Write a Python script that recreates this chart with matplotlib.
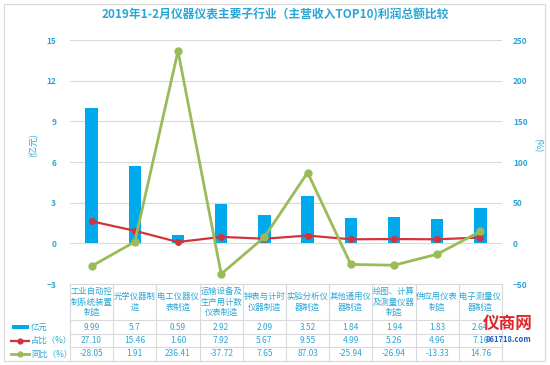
import numpy as np
import matplotlib
matplotlib.use("Agg")
import matplotlib.pyplot as plt
from matplotlib.lines import Line2D
from matplotlib.patches import Rectangle

plt.rcParams['font.family'] = ['Noto Sans CJK SC', 'DejaVu Sans']

categories = ["工业自动控\n制系统装置\n制造", "光学仪器制\n造", "电工仪器仪\n表制造",
              "运输设备及\n生产用计数\n仪表制造", "钟表与计时\n仪器制造", "实验分析仪\n器制造",
              "其他通用仪\n器制造", "绘图、计算\n及测量仪器\n制造", "供应用仪表\n制造",
              "电子测量仪\n器制造"]
profit = [9.99, 5.7, 0.59, 2.92, 2.09, 3.52, 1.84, 1.94, 1.83, 2.64]
share = [27.10, 15.46, 1.60, 7.92, 5.67, 9.55, 4.99, 5.26, 4.96, 7.16]
yoy = [-28.05, 1.91, 236.41, -37.72, 7.65, 87.03, -25.94, -26.94, -13.33, 14.76]
row_names = ["亿元", "占比（%）", "同比（%）"]

BLUE = "#00a9ec"
RED = "#d2343a"
GREEN = "#9bbb59"
TXT = "#2aa6d6"
GRID = "#d9d9d9"

W, H = 550, 365
fig = plt.figure(figsize=(5.5, 3.65), dpi=100)

def fx(px):
    return px / W

def fy(py):
    return 1 - py / H

x0, x1, ytop, ybot = 70, 502, 40, 284
ax = fig.add_axes([fx(x0), fy(ybot), fx(x1) - fx(x0), fy(ytop) - fy(ybot)])
n = len(categories)
x = np.arange(n)
ax.bar(x, profit, width=0.29, color=BLUE, zorder=2)
ax.set_xlim(-0.5, n - 0.5)
ax.set_ylim(-3, 15)
ax.set_yticks([-3, 0, 3, 6, 9, 12, 15])
ax.set_xticks([])
ax.grid(axis='y', color=GRID, lw=0.8, zorder=0)
for s in ax.spines.values():
    s.set_visible(False)
ax.tick_params(axis='y', length=0, labelsize=6, labelcolor=TXT, pad=10)
for t in ax.get_yticklabels():
    t.set_fontweight('bold')

ax2 = ax.twinx()
ax2.set_ylim(-50, 250)
ax2.set_yticks([-50, 0, 50, 100, 150, 200, 250])
ax2.plot(x, share, color=RED, lw=1.6, marker='o', ms=4, zorder=3)
ax2.plot(x, yoy, color=GREEN, lw=2, marker='o', ms=5, zorder=3)
for s in ax2.spines.values():
    s.set_visible(False)
ax2.tick_params(axis='y', length=0, labelsize=6, labelcolor=TXT, pad=8)
for t in ax2.get_yticklabels():
    t.set_fontweight('bold')

fig.text(fx(34), fy(145), "(亿元)", rotation=90, color=TXT, fontsize=6.5,
         ha='center', va='center')
fig.text(fx(537), fy(145), "(%)", rotation=270, color=TXT, fontsize=6.5,
         ha='center', va='center')

fig.text(fx(275), fy(15), "2019年1-2月仪器仪表主要子行业（主营收入TOP10)利润总额比较",
         color=TXT, fontsize=8.5, fontweight='bold', ha='center', va='center')

# data table below the plot
cw = (x1 - x0) / n
row_lines = [284, 320, 334, 347, 361]
for yy in row_lines:
    fig.add_artist(Line2D([fx(x0), fx(x1)], [fy(yy), fy(yy)], color=GRID, lw=0.8))
for i in range(n + 1):
    xx = x0 + i * cw
    fig.add_artist(Line2D([fx(xx), fx(xx)], [fy(284), fy(361)], color=GRID, lw=0.8))

for i, cat in enumerate(categories):
    cx = x0 + (i + 0.5) * cw
    fig.text(fx(cx), fy(302), cat, color=TXT, fontsize=6, ha='center', va='center',
             linespacing=1.25)
    vals = [f"{profit[i]:g}", f"{share[i]:.2f}", f"{yoy[i]:.2f}"]
    for j, v in enumerate(vals):
        cy = (row_lines[j + 1] + row_lines[j + 2]) / 2
        fig.text(fx(cx), fy(cy), v, color=TXT, fontsize=6, ha='center', va='center')

# legend keys in the left column
keys_y = [(row_lines[j + 1] + row_lines[j + 2]) / 2 for j in range(3)]
fig.add_artist(Rectangle((fx(12), fy(keys_y[0] + 2)), fx(17), fy(0) - fy(4),
                         color=BLUE, lw=0))
fig.add_artist(Line2D([fx(11), fx(20), fx(29)], [fy(keys_y[1])] * 3, color=RED, lw=1.6,
                      marker='o', ms=3.5, markevery=[1]))
fig.add_artist(Line2D([fx(11), fx(20), fx(29)], [fy(keys_y[2])] * 3, color=GREEN, lw=2,
                      marker='o', ms=3.5, markevery=[1]))
for j, name in enumerate(row_names):
    fig.text(fx(31), fy(keys_y[j]), name, color=TXT, fontsize=6, ha='left', va='center')

# watermark
fig.text(fx(508), fy(324), "仪商网", color="#e0262b", fontsize=12, fontweight='bold',
         ha='center', va='center')
fig.text(fx(508), fy(339), "861718.com", color="#1c5fc4", fontsize=5.5,
         fontweight='bold', ha='center', va='center')

fig.add_artist(Rectangle((fx(4), fy(361)), fx(541), fy(0) - fy(357), fill=False,
                         edgecolor="#d8d8d8", lw=0.8))

fig.savefig("out.png", dpi=100)
